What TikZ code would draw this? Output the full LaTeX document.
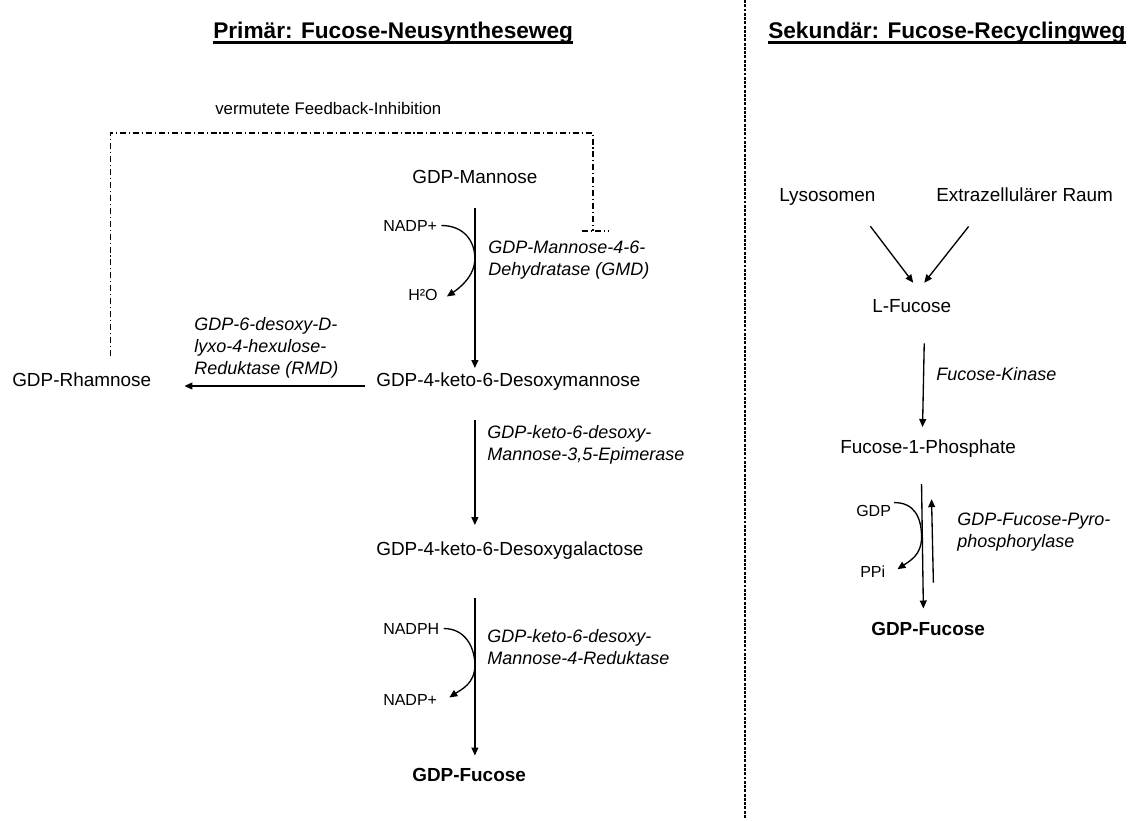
\documentclass[tikz,border=0pt]{standalone}
\usepackage{fontspec}
\setmainfont{Liberation Sans}
\usetikzlibrary{arrows.meta,calc}
\begin{document}
\begin{tikzpicture}[x=0.75pt,y=-0.75pt,
  every node/.style={inner sep=0pt,anchor=base west},
  cmp/.style={font=\fontsize{14.2}{17}\selectfont},
  bcmp/.style={font=\fontsize{14.2}{17}\selectfont\bfseries},
  small/.style={font=\fontsize{12}{14}\selectfont},
  note/.style={font=\fontsize{12.6}{15}\selectfont},
  enz/.style={font=\fontsize{13.5}{16.2}\selectfont\itshape,align=left},
  ttl/.style={font=\fontsize{17}{20}\selectfont\bfseries},
  arr/.style={line width=1pt,-{Triangle[length=6pt,width=5.2pt]}},
  cyc/.style={line width=1pt,-{Triangle[length=6pt,width=5.2pt]}},
  fb/.style={line width=0.8pt,dash pattern=on 4.5pt off 2.2pt on 0.8pt off 2.2pt},
  divider/.style={line width=0.9pt,dash pattern=on 2.2pt off 1pt}]

\useasboundingbox (0,0) rectangle (1128,821);

% column divider
\draw[divider] (745,0) -- (745,818);

% headings
\node[ttl] (t1) at (213,38) {Primär: Fucose-Neusyntheseweg};
\node[ttl] (t2) at (768,38) {Sekundär: Fucose-Recyclingweg};
\draw[line width=1.6pt] ($(t1.base west)+(0,4.5)$) -- ($(t1.base east)+(0,4.5)$);
\draw[line width=1.6pt] ($(t2.base west)+(0,4.5)$) -- ($(t2.base east)+(0,4.5)$);

% de novo pathway (multi-line labels are placed by their last baseline)
\node[note] (fbl) at (215,114) {vermutete Feedback-Inhibition};
\node[cmp] (mann) at (412,183) {GDP-Mannose};
\node[cmp] (keto1) at (376,386) {GDP-4-keto-6-Desoxymannose};
\node[cmp] (rham) at (12,386) {GDP-Rhamnose};
\node[cmp] (keto2) at (376,555) {GDP-4-keto-6-Desoxygalactose};
\node[bcmp] (fuc1) at (412,781) {GDP-Fucose};
\node[small] (nadpa) at (383,231) {NADP+};
\node[small] (water) at (408,300) {H²O};
\node[small] (nadph) at (383,634) {NADPH};
\node[small] (nadpb) at (383,705) {NADP+};
\node[enz] (gmd) at (488,275) {GDP-Mannose-4-6-\\Dehydratase (GMD)};
\node[enz] (rmd) at (194,374) {GDP-6-desoxy-D-\\lyxo-4-hexulose-\\Reduktase (RMD)};
\node[enz] (epi) at (487,460) {GDP-keto-6-desoxy-\\Mannose-3,5-Epimerase};
\node[enz] (red) at (487,664) {GDP-keto-6-desoxy-\\Mannose-4-Reduktase};

\draw[arr] ($(mann.south)+(0,25)$) -- ($(mann.south |- keto1.north)+(0,-4)$);
\draw[arr] ($(mann.south |- keto1.south)+(0,30)$) -- ($(mann.south |- keto2.north)+(0,-16)$);
\draw[arr] ($(mann.south |- keto2.south)+(0,39)$) -- ($(mann.south |- fuc1.north)+(0,-12)$);
\draw[arr] ($(keto1.base west)+(-11,0)$) -- ($(rham.base east)+(33,0)$);

\draw[cyc] ($(nadpa.east)+(4,0)$) .. controls +(22,0) and +(0,-18) ..
  ($(mann.south |- nadpa)+(0,33)$) .. controls +(0,18) and +(12,-8) ..
  ($(water.east)+(9,2)$);
\draw[cyc] ($(nadph.east)+(4,0)$) .. controls +(22,0) and +(0,-18) ..
  ($(mann.south |- nadph)+(0,37)$) .. controls +(0,18) and +(12,-8) ..
  ($(nadpb.east)+(12,-2)$);

% suspected feedback inhibition of GMD
\coordinate (fbcorner) at (593,133);
\coordinate (fbend) at (593,231);
\draw[fb] ($(rham.north)+(28.5,-16)$) |- (fbcorner) -- (fbend);
\draw[fb] ($(fbend)+(-11,0)$) -- ($(fbend)+(16,0)$);

% salvage pathway
\node[cmp] (lys) at (779,201) {Lysosomen};
\node[cmp] (extra) at (936,201) {Extrazellulärer Raum};
\node[cmp] (lfuc) at (872,312) {L-Fucose};
\node[enz] (kin) at (936,380) {Fucose-Kinase};
\node[cmp] (fp) at (840,453) {Fucose-1-Phosphate};
\node[small] (gdp) at (856,516) {GDP};
\node[small] (ppi) at (860,577) {PPi};
\node[bcmp] (fuc2) at (871,635) {GDP-Fucose};
\node[enz] (pyro) at (957,547) {GDP-Fucose-Pyro-\\phosphorylase};

\draw[arr] ($(lys.south)+(43,21)$) -- ($(lfuc.north)+(1.5,-16)$);
\draw[arr] ($(extra.south)+(-56,25)$) -- ($(lfuc.north)+(12.5,-16)$);
\draw[arr] ($(lfuc.south)+(12.5,31)$) -- ($(fp.north)+(-5.6,-12)$);
\draw[arr] ($(fp.south)+(-6.6,27)$) -- ($(fuc2.north)+(-4.7,-13)$);
\draw[arr] ($(fuc2.north)+(5.3,-39)$) -- ($(fp.south)+(3.4,42)$);
\draw[cyc] ($(gdp.north east)+(3,-2)$) .. controls +(20,0) and +(0,-20) ..
  ($(fp.south)+(-6.6,80)$) .. controls +(0,18) and +(12,-8) ..
  ($(ppi.east)+(12,-2)$);
\end{tikzpicture}
\end{document}
